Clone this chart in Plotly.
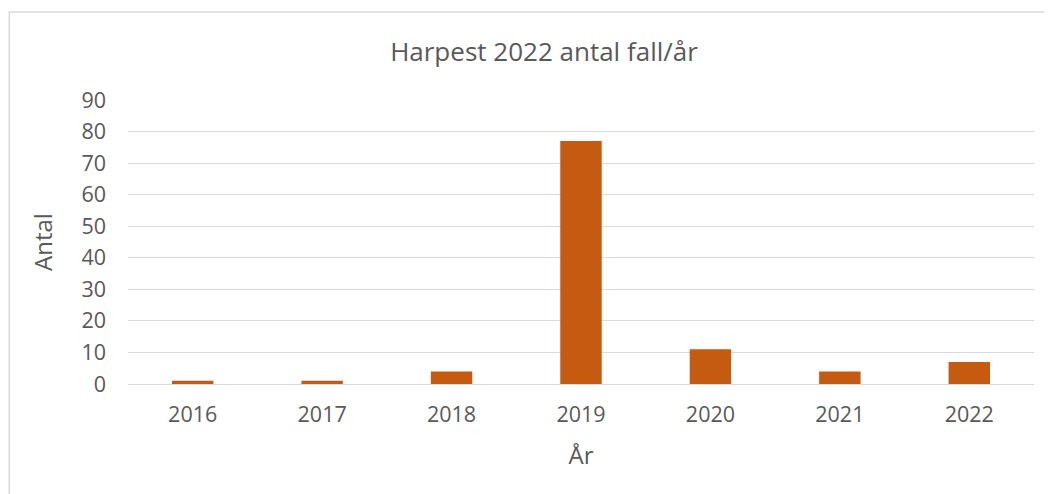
import plotly.graph_objects as go

years = ["2016", "2017", "2018", "2019", "2020", "2021", "2022"]
cases = [1, 1, 4, 77, 11, 4, 7]
y_ticks = [0, 10, 20, 30, 40, 50, 60, 70, 80, 90]

bar_color = "#C55A11"
text_color = "#595959"
grid_color = "#D9D9D9"
font_family = "'Open Sans', sans-serif"

fig = go.Figure(
    go.Bar(x=years, y=cases, marker=dict(color=bar_color, line=dict(width=0)), width=0.32)
)

# chart frame (light grey, as in the Excel original)
fig.add_shape(
    type="rect", xref="paper", yref="paper",
    x0=-0.131, x1=1.05, y0=-0.5, y1=1.31,
    line=dict(color="#D9D9D9", width=1.5), fillcolor="rgba(0,0,0,0)", layer="below",
)

fig.update_layout(
    width=1052, height=494,
    margin=dict(l=120, r=26, t=92, b=118),
    paper_bgcolor="white", plot_bgcolor="white",
    font=dict(family=font_family, color=text_color, size=18),
    title=dict(text="Harpest 2022 antal fall/år", x=536 / 1052, xanchor="center",
               xref="container", y=1 - 44 / 494, yanchor="middle",
               font=dict(size=26, color=text_color)),
    showlegend=False,
)
fig.update_xaxes(
    title=dict(text="År", font=dict(size=24), standoff=20),
    showgrid=False, showline=True, linecolor=grid_color, linewidth=1,
    ticks="", tickfont=dict(size=21.5), ticklabelstandoff=11,
)
fig.update_yaxes(
    title=dict(text="Antal", font=dict(size=24), standoff=22),
    range=[0, 90], tickvals=y_ticks, showgrid=True, gridcolor=grid_color, gridwidth=1,
    zeroline=False, showline=False, ticks="", tickfont=dict(size=21.5),
    ticklabelstandoff=21,
)

fig.write_html("out.html")
